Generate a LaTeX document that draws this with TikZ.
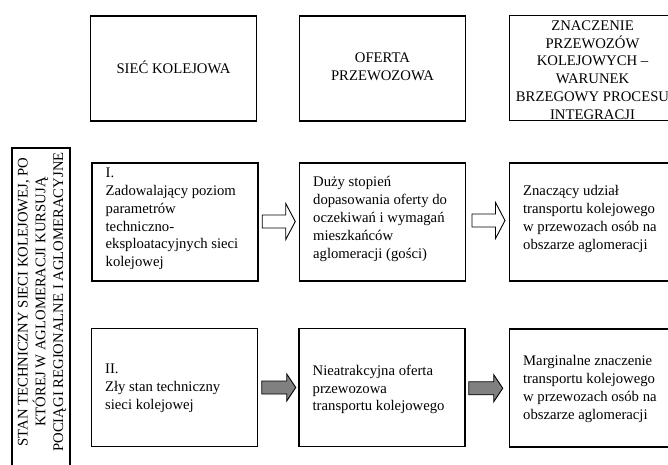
\documentclass[tikz,border=0pt]{standalone}
\usepackage{fontspec}
\setmainfont{Liberation Serif}
\usetikzlibrary{calc}
\definecolor{arrgray}{RGB}{128,128,128}
\tikzset{
  fnt/.style={font=\fontsize{14.7pt}{17.8pt}\selectfont},
  boxh/.style={draw, line width=1.1pt, minimum width=166pt, minimum height=105pt, inner sep=0pt},
  boxr/.style={draw, line width=1.1pt, minimum width=166pt, minimum height=118pt, inner sep=0pt},
  htext/.style={fnt, align=center, inner sep=0pt},
  rtext/.style={fnt, align=left, inner sep=0pt, anchor=west},
  hollowarr/.pic={\draw[line width=0.9pt, fill=white, line join=miter] (-16.5,-6.5) -- (7,-6.5) -- (7,-18) -- (16.5,0) -- (7,18) -- (7,6.5) -- (-16.5,6.5) -- cycle;},
  grayarr/.pic={\draw[line width=0.9pt, fill=arrgray, line join=miter] (-17,-6.5) -- (8,-6.5) -- (8,-13.5) -- (17,0) -- (8,13.5) -- (8,6.5) -- (-17,6.5) -- cycle;},
}
\begin{document}
\begin{tikzpicture}[x=1pt,y=-1pt]
\useasboundingbox (0,0) rectangle (668,464);
\clip (0,0) rectangle (668,464);
% header row
\node[boxh] (h1) at (173.5,68.5) {};
\node[htext] (h1t) at (173.5,67) {SIEĆ KOLEJOWA};
\node[boxh] (h2) at (382.5,68.5) {};
\node[htext] (h2t) at (382.5,67) {OFERTA\\PRZEWOZOWA};
\node[boxh] (h3) at (592.5,68) {};
\node[htext] (h3t) at (592.5,70) {ZNACZENIE\\PRZEWOZÓW\\KOLEJOWYCH --\\WARUNEK\\BRZEGOWY PROCESU\\INTEGRACJI};
% side box
\node[draw, line width=1.1pt, minimum width=58pt, minimum height=340pt, inner sep=0pt] (side) at (41,318) {};
\node[htext, rotate=90] (sidet) at (42,302) {STAN TECHNICZNY SIECI KOLEJOWEJ, PO\\KTÓREJ W AGLOMERACJI KURSUJĄ\\POCIĄGI REGIONALNE I AGLOMERACYJNE};
% row I
\node[boxr] (r1a) at (175,222) {};
\node[rtext] (r1at) at ($(r1a.west)+(14,-3)$) {I.\\Zadowalający poziom\\parametrów\\techniczno-\\eksploatacyjnych sieci\\kolejowej};
\node[boxr] (r1b) at (382.5,222) {};
\node[rtext] (r1bt) at ($(r1b.west)+(14,-3)$) {Duży stopień\\dopasowania oferty do\\oczekiwań i wymagań\\mieszkańców\\aglomeracji (gości)};
\node[boxr] (r1c) at (592.5,222) {};
\node[rtext] (r1ct) at ($(r1c.west)+(14,-3)$) {Znaczący udział\\transportu kolejowego\\w przewozach osób na\\obszarze aglomeracji};
% row II
\node[boxr] (r2a) at (174.5,387.5) {};
\node[rtext] (r2at) at ($(r2a.west)+(14,1)$) {II.\\Zły stan techniczny\\sieci kolejowej};
\node[boxr] (r2b) at (382,387.5) {};
\node[rtext] (r2bt) at ($(r2b.west)+(14,2)$) {Nieatrakcyjna oferta\\przewozowa\\transportu kolejowego};
\node[boxr] (r2c) at (592.5,388) {};
\node[rtext] (r2ct) at ($(r2c.west)+(14,1)$) {Marginalne znaczenie\\transportu kolejowego\\w przewozach osób na\\obszarze aglomeracji};
% block arrows
\pic at ($(r1a.east)!0.5!(r1b.west)+(0,-0.5)$) {hollowarr};
\pic at ($(r1b.east)!0.5!(r1c.west)+(1,-1.5)$) {hollowarr};
\pic at ($(r2a.east)!0.5!(r2b.west)+(0.5,0)$) {grayarr};
\pic at ($(r2b.east)!0.5!(r2c.west)+(-1.5,0.5)$) {grayarr};
\end{tikzpicture}
\end{document}
